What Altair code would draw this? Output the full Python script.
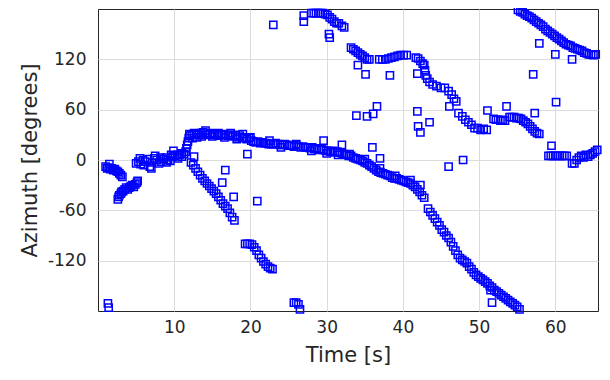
import altair as alt
import pandas as pd

# Track samples: (time [s], azimuth [deg])
tr1_t = [1.0, 1.2, 1.4, 1.6, 1.8, 2.0, 2.2, 2.4, 2.6, 2.8, 3.0, 3.2, 1.5]
tr1_a = [-8, -10, -9, -11, -10, -12, -11, -13, -14, -16, -18, -20, -5]

tr1b_t = [2.6, 2.7, 2.8, 3.0, 3.1, 3.3, 3.5, 3.7, 3.9, 4.1, 4.3, 4.5, 4.7, 4.9, 5.1, 5.2]
tr1b_a = [-47, -44, -42, -40, -38, -37, -35, -33, -35, -33, -31, -30, -32, -29, -27, -25]

tr2_t = [5.0, 5.3, 5.6, 5.9, 6.2, 6.5, 6.8, 7.1, 7.4, 7.7, 8.0, 8.3, 8.6, 8.9, 9.2, 9.5, 9.8,
         10.1, 10.4, 10.7, 11.0, 11.3, 5.5, 6.0, 7.5, 8.2, 9.0, 9.6, 10.5, 11.0]
tr2_a = [-4, -2, -5, 0, -2, 1, -8, -3, 2, 0, -4, -2, 1, 3, 0, -1, 4, 5, 6, 6, 8, 7,
         2, -6, 5, 3, -3, 6, 2, 4]

tr3_t = [11.5, 11.6, 11.7, 11.8, 11.9, 12.0]
tr3_a = [10, 14, 18, 22, 26, 29]

tr4_t = [12.0, 12.3, 12.6, 12.9, 13.2, 13.5, 13.8, 14.1, 14.4, 14.7, 15.0, 15.3, 15.6, 15.9,
         16.2, 16.5, 16.8, 17.1, 17.4, 17.7, 18.0, 18.3, 18.6, 18.9, 19.2, 19.5, 19.8, 20.1,
         20.4, 20.7, 21.0, 21.3, 21.6,
         12.4, 13.0, 13.6, 14.2, 15.0, 15.8, 16.6, 17.4, 18.2, 19.0, 20.0]
tr4_a = [31, 30, 32, 31, 30, 32, 33, 35, 31, 32, 30, 31, 30, 29, 30, 31, 30, 29, 30, 28, 30,
         27, 29, 27, 26, 25, 26, 23, 22, 21, 22, 20, 21,
         26, 27, 28, 30, 28, 32, 27, 32, 25, 31, 27]

tr5_t = [21.8, 22.1, 22.4, 22.7, 23.0, 23.3, 23.6, 23.9, 24.2, 24.5, 24.8, 25.1, 25.4, 25.7,
         26.0, 26.3, 26.6, 26.9, 27.2, 27.5, 27.8, 28.1, 28.4, 28.7, 29.0, 29.3, 29.6, 29.9,
         24.0, 26.0, 28.0, 22.5]
tr5_a = [20, 20, 19, 19, 19, 20, 19, 18, 18, 19, 18, 17, 17, 16, 18, 16, 15, 16, 15, 15, 14,
         15, 13, 14, 12, 13, 12, 11,
         15, 19, 11, 23]

tr6_t = [30.2, 30.5, 30.8, 31.1, 31.4, 31.7, 32.0, 32.3, 32.6, 32.9, 33.2, 33.5, 33.8, 34.1,
         34.4, 34.7, 35.0, 35.3, 35.6, 35.9, 36.2, 36.5, 36.8, 37.1, 37.4, 37.7, 38.0, 38.3,
         38.6, 38.9, 39.2, 39.5, 39.8, 40.1, 40.4, 40.7, 41.0, 41.3, 41.6, 41.9, 42.2, 42.5, 42.8,
         30.0, 31.5, 33.0, 35.0, 37.0, 39.0, 41.0]
tr6_a = [11, 10, 11, 9, 10, 9, 8, 7, 6, 5, 5, 3, 2, 1, 0, -1, -3, -4, -6, -8, -10, -12, -14,
         -15, -16, -17, -18, -19, -21, -22, -22, -23, -24, -25, -26, -27, -28, -30, -32, -35,
         -38, -42, -45,
         8, 6, 7, 1, -10, -19, -24]

tr7_t = [43.3, 43.6, 43.9, 44.2, 44.5, 44.8, 45.1, 45.4, 45.7, 46.0, 46.3, 46.6, 46.9, 47.2,
         47.5, 47.8, 48.1, 48.4, 48.7, 49.0, 49.3, 49.6, 49.9, 50.2, 50.5, 50.8, 51.1, 51.4,
         51.7, 52.0, 52.3, 52.6, 52.9, 53.2, 53.5, 53.8, 54.1, 54.4, 54.7, 55.0, 55.3]
tr7_a = [-58, -62, -66, -70, -74, -78, -83, -86, -90, -93, -98, -103, -108, -113, -117, -119,
         -121, -123, -127, -130, -134, -137, -139, -141, -143, -145, -147, -150, -152, -155,
         -157, -159, -161, -163, -165, -167, -169, -171, -173, -175, -178]

tr8_t = [55.1, 55.4, 55.7, 56.0, 56.3, 56.6, 56.9, 57.2, 57.5, 57.8, 58.1, 58.4, 58.7, 59.0,
         59.3, 59.6, 59.9, 60.2, 60.5, 60.8, 61.1, 61.4, 61.7, 62.0, 62.3, 62.6, 62.9, 63.2,
         63.5, 63.8, 64.1, 64.4, 64.7, 65.0, 65.3]
tr8_a = [179, 177, 176, 174, 172, 171, 169, 167, 165, 163, 161, 159, 156, 154, 152, 150, 148,
         146, 144, 142, 140, 138, 137, 136, 134, 133, 132, 131, 130, 128, 127, 126, 126, 125, 126]

tr9_t = [12.2, 12.5, 12.8, 13.1, 13.4, 13.7, 14.0, 14.3, 14.6, 14.9, 15.2, 15.5, 15.8, 16.1,
         16.4, 16.7, 17.0, 17.3, 17.6, 17.9]
tr9_a = [-3, -6, -10, -14, -18, -22, -25, -28, -31, -34, -37, -40, -44, -48, -52, -55, -58,
         -63, -68, -72]

tr10_t = [19.3, 19.6, 19.9, 20.2, 20.5, 20.8, 21.1, 21.4, 21.7, 22.0, 22.3, 22.6, 22.9]
tr10_a = [-100, -100, -100, -101, -104, -108, -113, -117, -121, -124, -127, -129, -130]

tr11_t = [1.3, 1.4, 25.7, 26.0, 26.3, 26.5]
tr11_a = [-171, -176, -170, -170, -172, -178]

tr12_t = [27.0, 27.0, 28.0, 28.3, 28.6, 28.9, 29.2, 29.5, 29.8, 30.1, 30.4, 30.7, 31.0, 31.3,
          31.6, 30.3, 30.4, 32.0, 32.3]
tr12_a = [172, 165, 175, 175, 175, 175, 175, 175, 174, 173, 170, 168, 165, 163, 163, 150,
          146, 160, 158]

tr13_t = [33.2, 33.5, 33.8, 34.1, 34.4, 34.7, 35.0, 35.3, 35.6, 36.9, 37.3, 37.7, 38.1, 38.5,
          38.9, 39.3, 39.7, 40.1, 40.5]
tr13_a = [134, 132, 130, 128, 126, 124, 122, 120, 120, 120, 120, 120, 121, 122, 123, 124, 125,
          125, 125]

tr14_t = [41.7, 42.0, 42.3, 42.6, 42.8, 42.9, 43.0, 43.2, 43.5, 43.9, 44.4, 45.0, 45.5, 46.0,
          46.4, 46.7, 47.0, 47.3, 47.8, 48.2, 48.6, 49.0, 49.4, 49.8, 50.2, 50.6, 51.0]
tr14_a = [122, 121, 118, 115, 113, 107, 101, 97, 93, 90, 88, 86, 86, 82, 78, 73, 70, 56, 52,
          48, 45, 42, 38, 38, 36, 37, 36]

tr15_t = [51.9, 52.2, 52.5, 52.8, 53.1, 53.4, 54.0, 54.3, 54.6, 54.9, 55.2, 55.5, 55.8, 56.1,
          56.4, 56.7, 57.0, 57.3, 57.6, 57.9]
tr15_a = [49, 48, 48, 47, 48, 47, 51, 51, 51, 50, 50, 49, 47, 45, 43, 40, 37, 34, 32, 31]

tr16_t = [59.1, 59.4, 59.7, 60.0, 60.3, 60.6, 60.9, 61.2, 61.5, 62.2, 62.5, 62.8, 63.1, 63.4,
          63.7, 64.0, 64.3, 64.6, 64.9, 65.2, 65.5]
tr16_a = [5, 5, 5, 5, 5, 5, 5, 5, 5, -4, -4, 0, 3, 5, 3, 6, 4, 6, 8, 10, 12]

out_t = [34.1, 35.1, 38.3, 36.6, 33.9, 35.3, 36.1, 41.9, 41.9, 42.0, 43.5, 42.3, 32.0, 36.0,
         37.0, 47.9, 46.0, 57.9, 60.0, 62.2, 57.1, 60.1, 53.6, 51.1, 57.3, 59.5, 19.6, 23.0,
         29.6, 16.7, 16.3, 17.8, 20.9, 12.6, 9.9, 51.7, 51.5, 7.0, 42.3, 46.1]
out_a = [113, 102, 101, 64, 53, 52, 55, 103, 58, 40, 45, 33, 18, 15, 2, 0, -8, 139, 126, 120,
         102, 69, 64, 59, 56, 17, 7, 161, 23, -12, -27, -44, -49, 4, 11, -170, -155, -10, -30, 64]

all_t = (tr1_t + tr1b_t + tr2_t + tr3_t + tr4_t + tr5_t + tr6_t + tr7_t + tr8_t + tr9_t
         + tr10_t + tr11_t + tr12_t + tr13_t + tr14_t + tr15_t + tr16_t + out_t)
all_a = (tr1_a + tr1b_a + tr2_a + tr3_a + tr4_a + tr5_a + tr6_a + tr7_a + tr8_a + tr9_a
         + tr10_a + tr11_a + tr12_a + tr13_a + tr14_a + tr15_a + tr16_a + out_a)

df = pd.DataFrame({"t": all_t, "az": all_a})

x_ticks = [10, 20, 30, 40, 50, 60]
y_ticks = [-120, -60, 0, 60, 120]
TXT = "#262626"

chart = alt.Chart(df).mark_point(
    shape="square", filled=False, color="#0000ff", size=52, strokeWidth=1.5, opacity=1
).encode(
    x=alt.X("t:Q", scale=alt.Scale(domain=[0, 65.6], nice=False, zero=False),
            axis=alt.Axis(values=x_ticks, title="Time [s]", format="d",
                          labelPadding=8, titlePadding=9)),
    y=alt.Y("az:Q", scale=alt.Scale(domain=[-180, 180], nice=False),
            axis=alt.Axis(values=y_ticks, title="Azimuth [degrees]", format="d",
                          labelExpr="replace(datum.label, '\u2212', '-')",
                          labelPadding=12, titlePadding=7)),
).properties(
    width=500, height=302,
    autosize=alt.AutoSizeParams(type="none"),
    padding={"left": 90, "top": 1, "right": 4, "bottom": 60},
).configure_view(
    stroke=TXT, strokeWidth=1
).configure_axis(
    grid=True, gridColor="#dcdcdc", gridWidth=1, domain=False, ticks=False,
    labelFont="DejaVu Sans", labelFontSize=17, labelColor=TXT,
    titleFont="DejaVu Sans", titleFontSize=21, titleFontWeight="normal", titleColor=TXT,
)

chart.save("out.html", embed_options={"renderer": "svg", "actions": False})
